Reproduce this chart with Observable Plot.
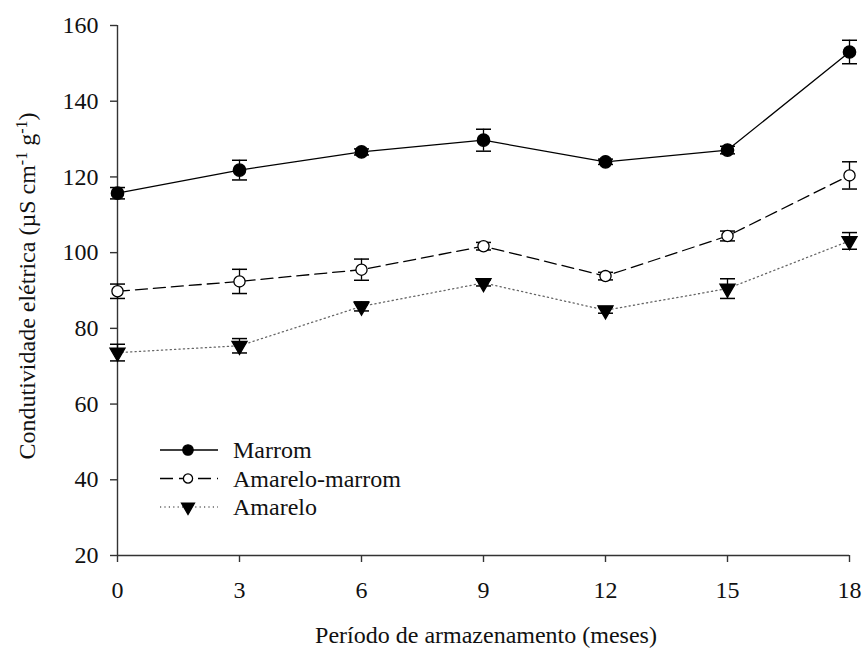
<!DOCTYPE html>
<html>
<head>
<meta charset="utf-8">
<script src="https://cdn.jsdelivr.net/npm/d3@7"></script>
<script src="https://cdn.jsdelivr.net/npm/@observablehq/plot@0.6"></script>
<style>
  html, body { margin: 0; padding: 0; background: white; }
  #chart { width: 867px; height: 648px; }
</style>
</head>
<body>
<div id="chart"></div>
<script>
const months = [0, 3, 6, 9, 12, 15, 18];
const seriesNames = ["Marrom", "Amarelo-marrom", "Amarelo"];
const marrom = [115.7, 121.8, 126.6, 129.7, 124.0, 127.1, 153.0];
const marromErr = [1.5, 2.6, 0.8, 2.9, 0.7, 1.0, 3.1];
const amareloMarrom = [89.8, 92.4, 95.5, 101.7, 93.8, 104.4, 120.4];
const amareloMarromErr = [1.9, 3.2, 2.8, 1.0, 1.0, 1.3, 3.6];
const amarelo = [73.6, 75.4, 85.8, 92.0, 84.8, 90.5, 103.1];
const amareloErr = [2.2, 1.9, 1.2, 0.8, 0.8, 2.6, 2.2];
const xTicks = [0, 3, 6, 9, 12, 15, 18];
const yTicks = [20, 40, 60, 80, 100, 120, 140, 160];
const xTitle = "Período de armazenamento (meses)";

const FONT = "Liberation Serif";
const FS = 24;

const styles = [
  {dash: null, legendDash: null, stroke: "#000", width: 1.3, symbol: "circle", fill: "#000", r: 6.2, lr: 5.2, rotate: 0},
  {dash: "12,6", legendDash: "13,6", stroke: "#000", width: 1.3, symbol: "circle", fill: "#fff", r: 5.6, lr: 4.6, rotate: 0},
  {dash: "1.2,3.2", legendDash: "1.2,3.2", stroke: "#666", width: 1.3, symbol: "triangle", fill: "#000", r: 5.6, lr: 4.8, rotate: 180}
];
const allVals = [marrom, amareloMarrom, amarelo];
const allErr = [marromErr, amareloMarromErr, amareloErr];
const data = seriesNames.map((s, i) => months.map((m, j) => ({
  serie: s, month: m, value: allVals[i][j], lo: allVals[i][j] - allErr[i][j], hi: allVals[i][j] + allErr[i][j]
})));
const capSymbol = { draw(ctx) { ctx.moveTo(-7.5, 0); ctx.lineTo(7.5, 0); } };

const marks = [
  Plot.ruleX([0], {stroke: "#333", strokeWidth: 1.4}),
  Plot.ruleY([20], {stroke: "#333", strokeWidth: 1.4}),
  Plot.axisY({ticks: yTicks, tickSize: 7, tickPadding: 12, label: null, fontSize: FS, stroke: "#333", strokeWidth: 1.4}),
  Plot.axisX({ticks: xTicks, tickSize: 7, tickPadding: 18, label: null, fontSize: FS, stroke: "#333", strokeWidth: 1.4})
];
data.forEach((d, i) => {
  marks.push(Plot.ruleX(d, {x: "month", y1: "lo", y2: "hi", stroke: "#000", strokeWidth: 1.3}));
  marks.push(Plot.dot(d, {x: "month", y: "lo", symbol: capSymbol, stroke: "#000", strokeWidth: 1.5, fill: "none"}));
  marks.push(Plot.dot(d, {x: "month", y: "hi", symbol: capSymbol, stroke: "#000", strokeWidth: 1.5, fill: "none"}));
});
data.forEach((d, i) => {
  const st = styles[i];
  marks.push(Plot.line(d, {x: "month", y: "value", stroke: st.stroke, strokeWidth: st.width, strokeDasharray: st.dash}));
});
data.forEach((d, i) => {
  const st = styles[i];
  marks.push(Plot.dot(d, {x: "month", y: "value", symbol: st.symbol, r: st.r, fill: st.fill, stroke: "#000", strokeWidth: 1.3, rotate: st.rotate}));
});

const chart = Plot.plot({
  width: 867, height: 648,
  marginLeft: 117, marginRight: 18, marginTop: 25, marginBottom: 93,
  x: {domain: [0, 18]},
  y: {domain: [20, 160]},
  style: {fontSize: FS + "px", fontFamily: FONT, color: "#111", background: "white"},
  marks
});

const svg = d3.select(chart);
svg.attr("font-family", FONT).attr("font-size", FS);

// axis titles
svg.append("text")
  .attr("x", 486).attr("y", 643)
  .attr("text-anchor", "middle")
  .attr("font-size", FS).attr("fill", "#111")
  .text(xTitle);
const yt = svg.append("text")
  .attr("transform", "translate(35,286) rotate(-90)")
  .attr("text-anchor", "middle")
  .attr("font-size", FS).attr("fill", "#111");
yt.append("tspan").text("Condutividade elétrica (µS cm");
yt.append("tspan").attr("baseline-shift", "super").attr("font-size", 16).text("-1");
yt.append("tspan").text(" g");
yt.append("tspan").attr("baseline-shift", "super").attr("font-size", 16).text("-1");
yt.append("tspan").text(")");

// legend
const sym = {circle: d3.symbolCircle, triangle: d3.symbolTriangle};
const lg = svg.append("g");
seriesNames.forEach((name, i) => {
  const st = styles[i];
  const y = 450 + 28.5 * i;
  lg.append("line").attr("x1", 160).attr("x2", 218).attr("y1", y).attr("y2", y)
    .attr("stroke", st.stroke).attr("stroke-width", st.width)
    .attr("stroke-dasharray", st.legendDash);
  lg.append("path")
    .attr("d", d3.symbol(sym[st.symbol], Math.PI * st.lr * st.lr)())
    .attr("transform", `translate(188,${y}) rotate(${st.rotate})`)
    .attr("fill", st.fill).attr("stroke", "#000").attr("stroke-width", 1.3);
  lg.append("text").attr("x", 233).attr("y", y + 8)
    .attr("text-anchor", "start")
    .attr("font-size", FS).attr("fill", "#111")
    .text(name);
});

document.getElementById("chart").appendChild(chart);
svg.selectAll("text").attr("font-family", FONT).style("font-family", FONT);
</script>
</body>
</html>
